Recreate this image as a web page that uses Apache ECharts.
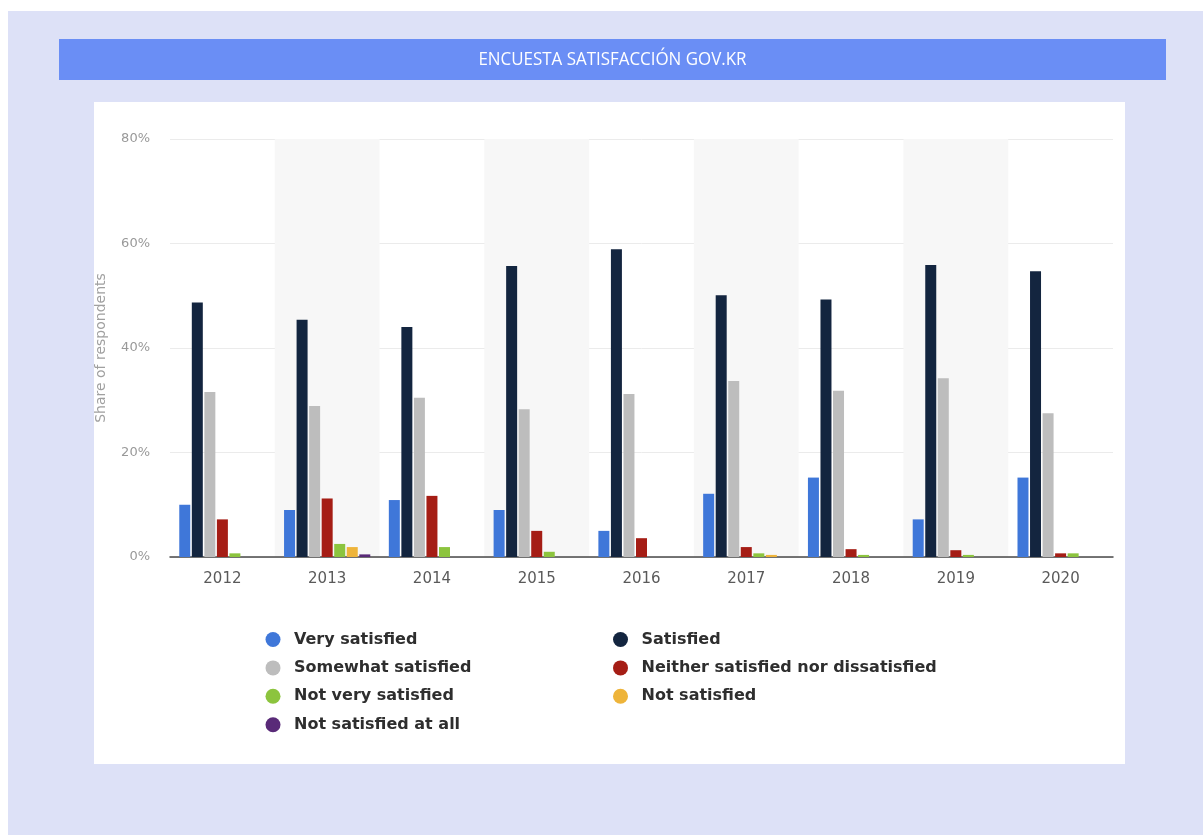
<!DOCTYPE html>
<html>
<head>
<meta charset="utf-8">
<script src="https://cdn.jsdelivr.net/npm/echarts@6/dist/echarts.min.js"></script>
<style>
html,body{margin:0;padding:0;background:#fff;}
#c{width:1203px;height:835px;}
</style>
</head>
<body>
<div id="c"></div>
<script>
const years = ['2012','2013','2014','2015','2016','2017','2018','2019','2020'];
const verySatisfied      = [10.0, 9.0, 10.9, 9.0, 5.0, 12.1, 15.2, 7.2, 15.2];
const satisfied          = [48.7, 45.4, 44.0, 55.7, 58.9, 50.1, 49.3, 55.9, 54.7];
const somewhatSatisfied  = [31.6, 28.9, 30.5, 28.3, 31.2, 33.7, 31.8, 34.2, 27.5];
const neitherSatisfied   = [7.2, 11.2, 11.7, 5.0, 3.6, 1.9, 1.5, 1.3, 0.7];
const notVerySatisfied   = [0.7, 2.5, 1.9, 1.0, 0.0, 0.7, 0.4, 0.4, 0.7];
const notSatisfied       = [0.0, 1.9, 0.0, 0.0, 0.0, 0.4, 0.0, 0.0, 0.0];
const notSatisfiedAtAll  = [0.0, 0.5, 0.0, 0.0, 0.0, 0.0, 0.0, 0.0, 0.0];
const yTicks = [0, 20, 40, 60, 80];
const titleText = 'ENCUESTA SATISFACCIÓN GOV.KR';

const seriesDefs = [
  {name:'Very satisfied', data: verySatisfied, color:'#3f77d9'},
  {name:'Satisfied', data: satisfied, color:'#13253f'},
  {name:'Somewhat satisfied', data: somewhatSatisfied, color:'#bdbdbd'},
  {name:'Neither satisfied nor dissatisfied', data: neitherSatisfied, color:'#a51d15'},
  {name:'Not very satisfied', data: notVerySatisfied, color:'#8cc43e'},
  {name:'Not satisfied', data: notSatisfied, color:'#eeb43a'},
  {name:'Not satisfied at all', data: notSatisfiedAtAll, color:'#592a78'}
];

const chart = echarts.init(document.getElementById('c'), null, {renderer:'canvas'});
const legendText = {fontFamily:'DejaVu Sans', fontSize:16, lineHeight:16, fontWeight:'bold', color:'#2e2e2e', padding:[0,0,0,8.5]};
chart.setOption({
  animation:false,
  graphic:[
    {type:'rect', z:-100, shape:{x:8,y:11,width:1195,height:824}, style:{fill:'#dde1f7'}},
    {type:'rect', z:-99, shape:{x:59,y:39,width:1107,height:41}, style:{fill:'#6a8ef5'}},
    {type:'rect', z:-99, shape:{x:94,y:102,width:1031,height:662}, style:{fill:'#ffffff'}},
    {type:'text', z:10, x:612.5, y:59.5, scaleX:0.94,
     style:{x:0, y:0, text:titleText, fill:'#ffffff', font:'18px "Open Sans"', align:'center', verticalAlign:'middle'}}
  ],
  legend:[
    {data:['Very satisfied','Somewhat satisfied','Not very satisfied','Not satisfied at all'],
     orient:'vertical', left:265.5, top:631.5, padding:0, itemWidth:15, itemHeight:15, itemGap:12.4,
     icon:'circle', textStyle:legendText, selectedMode:false},
    {data:['Satisfied','Neither satisfied nor dissatisfied','Not satisfied'],
     orient:'vertical', left:613, top:631.5, padding:0, itemWidth:15, itemHeight:15, itemGap:12.4,
     icon:'circle', textStyle:legendText, selectedMode:false}
  ],
  grid:{left:170, right:90, top:139, bottom:278},
  xAxis:{
    type:'category', data:years,
    axisLine:{lineStyle:{color:'#4a4a4a', width:1.5}},
    axisTick:{show:false},
    axisLabel:{color:'#5a5a5a', fontFamily:'DejaVu Sans', fontSize:15, margin:15},
    splitArea:{show:true, areaStyle:{color:['rgba(255,255,255,0)','#f7f7f7']}}
  },
  yAxis:{
    type:'value', min:0, max:80, interval:20,
    name:'Share of respondents', nameLocation:'middle', nameGap:62, nameRotate:90,
    nameTextStyle:{color:'#a0a0a0', fontFamily:'DejaVu Sans', fontSize:14},
    axisLine:{show:false}, axisTick:{show:false},
    axisLabel:{color:'#999', fontFamily:'DejaVu Sans', fontSize:13, margin:20,
      formatter:function(v){return yTicks.indexOf(v)>=0 ? v+'%' : '';}},
    splitLine:{lineStyle:{color:'#ebebeb', width:1}}
  },
  series: seriesDefs.map(s => ({
    name:s.name, type:'bar', data:s.data, barWidth:11, barGap:'14%',
    itemStyle:{color:s.color}
  }))
});
</script>
</body>
</html>
